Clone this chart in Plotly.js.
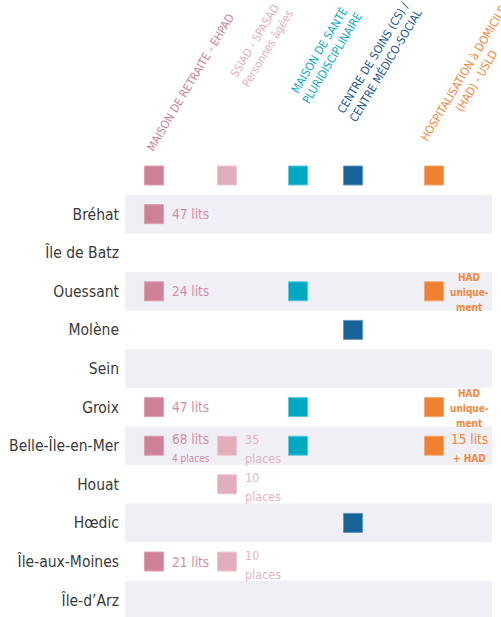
<!DOCTYPE html>
<html>
<head>
<meta charset="utf-8">
<script src="https://cdn.plot.ly/plotly-3.0.1.min.js"></script>
<style>html,body{margin:0;padding:0;background:#fff;}#chart{width:501px;height:617px;}</style>
</head>
<body>
<div id="chart"></div>
<script>
// ---------- DATA ----------
const islands = ['Bréhat', 'Île de Batz', 'Ouessant', 'Molène', 'Sein', 'Groix',
  'Belle-Île-en-Mer', 'Houat', 'Hœdic', 'Île-aux-Moines', 'Île-d’Arz'];
const services = ['MAISON DE RETRAITE - EHPAD', 'SSIAD - SPASAD<br>Personnes âgées',
  'MAISON DE SANTÉ<br>PLURIDISCIPLINAIRE', 'CENTRE DE SOINS (CS) /<br>CENTRE MÉDICO-SOCIAL',
  'HOSPITALISATION à DOMICILE<br>(HAD) - USLD'];
const ehpadIslands = ['Bréhat', 'Ouessant', 'Groix', 'Belle-Île-en-Mer', 'Île-aux-Moines'];
const ehpadText = ['47 lits', '24 lits', '47 lits', '68 lits<br>4 places', '21 lits'];
const ssiadIslands = ['Belle-Île-en-Mer', 'Houat', 'Île-aux-Moines'];
const ssiadText = ['35<br>places', '10<br>places', '10<br>places'];
const mspIslands = ['Ouessant', 'Groix', 'Belle-Île-en-Mer'];
const csIslands = ['Molène', 'Hœdic'];
const hadIslands = ['Ouessant', 'Groix', 'Belle-Île-en-Mer'];
const hadText = ['<b>HAD</b><br><b>unique-</b><br><b>ment</b>', '<b>HAD</b><br><b>unique-</b><br><b>ment</b>', '15 lits<br><b>+ HAD</b>'];
const stripedIslands = ['Bréhat', 'Ouessant', 'Sein', 'Belle-Île-en-Mer', 'Hœdic', 'Île-d’Arz'];

// ---------- STYLE / LAYOUT ----------
const HEADER = 'header';
const rows = [HEADER].concat(islands);
const colPos = [0, 1, 1.973, 2.726, 3.836];
const colors = ['#cf8297', '#e2aebb', '#00a8c4', '#186395', '#f08133'];
const borders = ['#dca0b0', '#ecc6d0', '#5cc9dc', '#6a97b9', '#f5a670'];
const headColors = ['#cf7f96', '#e4afbe', '#0fa8c4', '#18598b', '#f2873f'];
const headShift = [[36.5, 94], [34, 131.5], [27, 122], [26.5, 114], [36, 98]];
const headFont = 'Liberation Sans Narrow, DejaVu Sans Condensed, sans-serif';
const labFont = 'DejaVu Sans Condensed, DejaVu Sans, sans-serif';

const present = [ehpadIslands, ssiadIslands, mspIslands, csIslands, hadIslands];

const traces = [];
traces.push({
  type: 'scatter', mode: 'markers', hoverinfo: 'skip', showlegend: false,
  x: colPos, y: colPos.map(() => HEADER),
  marker: {symbol: 'square', size: 19, color: colors, line: {color: borders, width: 1}}
});
present.forEach((list, c) => {
  traces.push({
    type: 'scatter', mode: 'markers', hoverinfo: 'skip', showlegend: false,
    x: list.map(() => colPos[c]), y: list,
    marker: {symbol: 'square', size: 19, color: colors[c], line: {color: borders[c], width: 1}}
  });
});

const shapes = stripedIslands.map(name => {
  const i = rows.indexOf(name);
  return {type: 'rect', xref: 'paper', yref: 'y', x0: 0, x1: 1, y0: i - 0.5, y1: i + 0.5,
    fillcolor: '#f0eff6', line: {width: 0}, layer: 'below'};
});

const annotations = [];
services.forEach((s, c) => {
  annotations.push({
    xref: 'x', yref: 'y', x: colPos[c], y: HEADER, xshift: headShift[c][0], yshift: headShift[c][1],
    text: s, showarrow: false, textangle: -59, xanchor: 'center', yanchor: 'middle', align: 'center',
    font: {family: headFont, size: 11.5, color: headColors[c]}
  });
});

const lineOffsets = {1: [0], 2: [6.5, -12.5], 3: [13.5, -1.5, -16.5]};
const labelSets = [
  {c: 0, names: ehpadIslands, texts: ehpadText, color: '#d48ea2', anchor: 'left', dx: 16, small: 10},
  {c: 1, names: ssiadIslands, texts: ssiadText, color: '#e6b4c2', anchor: 'left', dx: 16, small: 12},
  {c: 4, names: hadIslands, texts: hadText, color: '#f0883e', anchor: 'center', dx: 35, small: 10}
];
labelSets.forEach(set => {
  set.names.forEach((name, k) => {
    const lines = set.texts[k].split('<br>');
    const offs = lineOffsets[lines.length];
    lines.forEach((ln, j) => {
      const bold = ln.indexOf('<b>') === 0;
      let size = 13.5;
      if (bold) size = 10;
      else if (j > 0) size = set.small;
      if (set.c === 1) size = 12.5;
      annotations.push({
        xref: 'x', yref: 'y', x: colPos[set.c], y: name, xshift: set.dx, yshift: offs[j],
        text: ln, showarrow: false, xanchor: set.anchor, yanchor: 'middle',
        font: {family: labFont, size: size, color: set.color}
      });
    });
  });
});

const layout = {
  width: 501, height: 617,
  margin: {l: 125, r: 9, t: 0, b: 0, pad: 0},
  paper_bgcolor: '#ffffff', plot_bgcolor: '#ffffff',
  showlegend: false,
  xaxis: {range: [-0.397, 4.630], visible: false, fixedrange: true},
  yaxis: {type: 'category', categoryorder: 'array', categoryarray: rows,
    range: [11.438, -4.547], showgrid: false, zeroline: false, showline: false, ticks: '',
    tickvals: islands, ticktext: islands, ticklabelstandoff: 5, fixedrange: true,
    tickfont: {family: labFont, size: 15.5, color: '#3a3a3a'}},
  shapes: shapes,
  annotations: annotations
};

Plotly.newPlot('chart', traces, layout, {displayModeBar: false, staticPlot: true});
</script>
</body>
</html>
